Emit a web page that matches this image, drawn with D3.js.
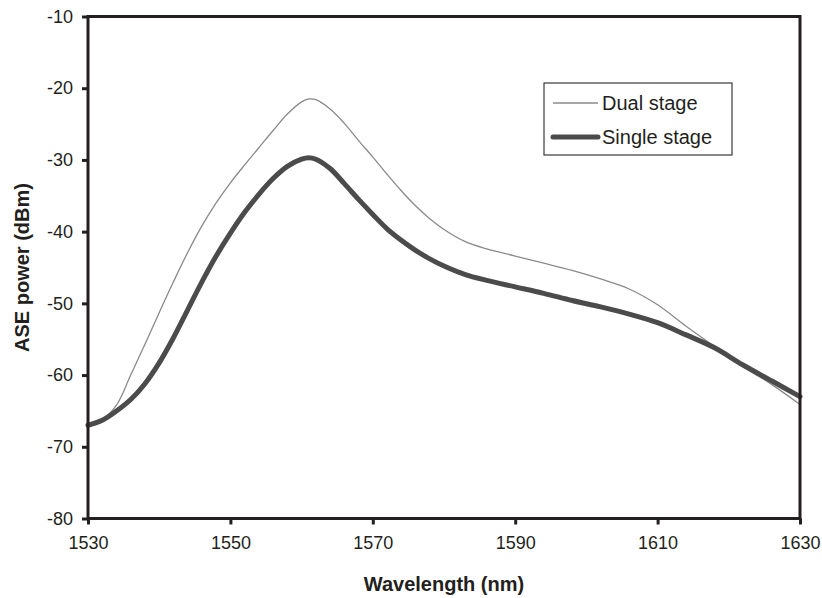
<!DOCTYPE html>
<html>
<head>
<meta charset="utf-8">
<script src="https://cdn.jsdelivr.net/npm/d3@7"></script>
<style>
  body { margin: 0; background: #fff; }
  text { font-family: "Liberation Sans", Arial, sans-serif; fill: #231f20; }
</style>
</head>
<body>
<div class="container"></div>
<script>
// wavelength samples (nm)
var wavelength = [1530, 1532, 1534, 1536, 1538, 1540, 1542, 1544, 1546, 1548, 1550, 1552, 1554, 1556, 1558, 1560, 1561, 1562, 1564, 1566,
                  1568, 1570, 1572, 1574, 1576, 1578, 1580, 1583, 1586, 1590, 1594, 1598, 1602, 1606, 1610, 1614, 1618, 1622, 1626, 1630];
// ASE power (dBm)
var dualStage = [-67.0, -66.2, -64.2, -60.0, -55.7, -51.3, -47.0, -42.9, -39.2, -36.0, -33.2, -30.7, -28.3, -25.9, -23.6, -21.9, -21.5, -21.6, -22.9, -24.9,
                 -27.3, -29.6, -32.0, -34.3, -36.4, -38.2, -39.7, -41.4, -42.4, -43.4, -44.4, -45.4, -46.6, -48.0, -50.2, -53.2, -56.0, -58.8, -61.3, -64.1];
var singleStage = [-67.0, -66.3, -65.0, -63.4, -61.2, -58.3, -54.8, -50.9, -47.0, -43.4, -40.2, -37.3, -34.8, -32.6, -30.9, -29.9, -29.7, -29.9, -31.2, -33.3,
                   -35.5, -37.6, -39.6, -41.2, -42.6, -43.8, -44.8, -46.0, -46.8, -47.7, -48.6, -49.6, -50.5, -51.5, -52.7, -54.4, -56.2, -58.6, -60.8, -63.0];
var xTicks = [1530, 1550, 1570, 1590, 1610, 1630];
var yTicks = [-10, -20, -30, -40, -50, -60, -70, -80];
var seriesNames = ["Dual stage", "Single stage"];

var width = 822, height = 598;
var margin = {left: 88, top: 16.5, right: 22, bottom: 79.5};
var w = width - margin.left - margin.right;
var h = height - margin.top - margin.bottom;

var svg = d3.select(".container").append("svg").attr("width", width).attr("height", height);
var chartGroup = svg.append("g").attr("transform", "translate(" + margin.left + "," + margin.top + ")");

var x = d3.scaleLinear().domain([1530, 1630]).range([0, w]);
var y = d3.scaleLinear().domain([-80, -10]).range([h, 0]);

function pts(vals) {
    return wavelength.map(function(d, i) { return [d, vals[i]]; });
}

var line = d3.line()
    .x(function(d) { return x(d[0]); })
    .y(function(d) { return y(d[1]); })
    .curve(d3.curveCatmullRom);

// curves
chartGroup.append("path")
    .attr("fill", "none")
    .attr("stroke", "#8a8a8a")
    .attr("stroke-width", 1.3)
    .attr("d", line(pts(dualStage)));

chartGroup.append("path")
    .attr("fill", "none")
    .attr("stroke", "#4b4b4b")
    .attr("stroke-width", 5)
    .attr("stroke-linecap", "round")
    .attr("stroke-linejoin", "round")
    .attr("d", line(pts(singleStage)));

// frame
chartGroup.append("rect")
    .attr("x", 0).attr("y", 0).attr("width", w).attr("height", h)
    .attr("fill", "none").attr("stroke", "#231f20").attr("stroke-width", 3);

// axes
var xAxis = d3.axisBottom(x).tickValues(xTicks).tickSize(6).tickPadding(12).tickFormat(d3.format("d"));
var yAxis = d3.axisLeft(y).tickValues(yTicks).tickSize(6).tickPadding(9).tickFormat(function(d) { return "-" + Math.abs(d); });

var gx = chartGroup.append("g").attr("transform", "translate(0," + h + ")").call(xAxis);
var gy = chartGroup.append("g").call(yAxis);
[gx, gy].forEach(function(g) {
    g.select(".domain").remove();
    g.selectAll(".tick line").attr("stroke", "#231f20").attr("stroke-width", 3);
    g.selectAll(".tick text").attr("font-size", 18).attr("fill", "#231f20")
        .style("font-family", "'Liberation Sans', Arial, sans-serif");
});

// axis titles
svg.append("text")
    .attr("x", margin.left + w / 2).attr("y", 591)
    .attr("text-anchor", "middle").attr("font-size", 20).attr("font-weight", "bold")
    .text("Wavelength (nm)");

svg.append("text")
    .attr("transform", "translate(29," + (margin.top + h / 2) + ") rotate(-90)")
    .attr("text-anchor", "middle").attr("font-size", 20).attr("font-weight", "bold")
    .text("ASE power (dBm)");

// legend
var legend = svg.append("g").attr("transform", "translate(544,83)");
legend.append("rect").attr("width", 188).attr("height", 72)
    .attr("fill", "#fff").attr("stroke", "#3a3a3a").attr("stroke-width", 1.2);
var legendStyle = [{stroke: "#8a8a8a", sw: 1.3}, {stroke: "#4b4b4b", sw: 5}];
seriesNames.forEach(function(name, i) {
    var ly = 20 + i * 34;
    legend.append("line").attr("x1", 9).attr("x2", 54).attr("y1", ly).attr("y2", ly)
        .attr("stroke", legendStyle[i].stroke).attr("stroke-width", legendStyle[i].sw)
        .attr("stroke-linecap", i ? "round" : "butt");
    legend.append("text").attr("x", 58).attr("y", ly + 7).attr("font-size", 20).text(name);
});
</script>
</body>
</html>
